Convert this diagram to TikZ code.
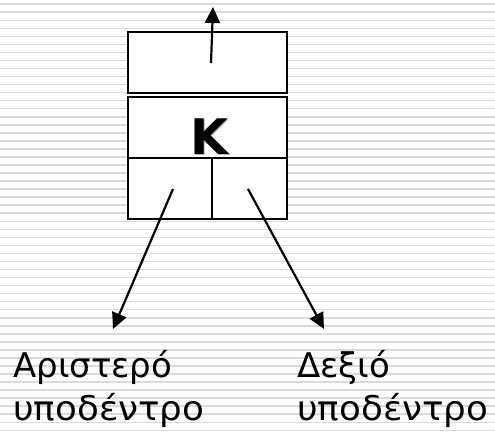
\documentclass[tikz,border=0pt]{standalone}
\usepackage{fontspec}
\setmainfont{DejaVu Sans}
\usetikzlibrary{arrows.meta,calc}
\definecolor{stripegray}{RGB}{218,218,218}
\tikzset{
  cell/.style={draw=black, fill=white, line width=2.2pt, rectangle, inner sep=0pt},
  link/.style={line width=2.2pt, -{Triangle[length=16pt,width=15pt]}},
  stripe/.style={draw=stripegray, line width=1.5pt},
  caption/.style={anchor=base west, inner sep=0pt, font=\fontsize{34}{40}\selectfont}
}
\begin{document}
\begin{tikzpicture}[x=1pt,y=-1pt]
  \useasboundingbox (0,0) rectangle (495,431);
  % ruled background
  \foreach \k in {0,...,53}
    \draw[stripe] (0,4.2+8.04*\k) -- (495,4.2+8.04*\k);

  % node record: parent pointer, key, left and right child pointers
  \node[cell, minimum width=159pt, minimum height=61pt] (parent) at (207.5,62.5) {};
  \node[cell, minimum width=159pt, minimum height=61pt] (key) at (207.5,127.5) {};
  \node[cell, minimum width=84pt, minimum height=61pt] (left) at (170,188.5) {};
  \node[cell, minimum width=75pt, minimum height=61pt] (right) at (249.5,188.5) {};

  % key letter with a soft shadow
  \node[anchor=base, inner sep=0pt, text=black!30, font=\bfseries\fontsize{49}{50}\selectfont] (kshadow) at (210.2,155.2) {Κ};
  \node[anchor=base, inner sep=0pt, font=\bfseries\fontsize{49}{50}\selectfont] (k) at (209,154) {Κ};

  % pointer ends
  \coordinate (pstart) at (211,63);
  \coordinate (pend) at (213,7);
  \coordinate (lstart) at (173,189);
  \coordinate (lend) at (113,329);
  \coordinate (rstart) at (248,189);
  \coordinate (rend) at (324,329);

  \draw[link] (pstart) -- (pend);
  \draw[link] (lstart) -- (lend);
  \draw[link] (rstart) -- (rend);

  % subtree captions
  \node[caption] (ltop) at (13,377) {Αριστερό};
  \node[caption] (lbot) at (13,420) {\scalebox{1.05}[1]{υποδέντρο}};
  \node[caption] (rtop) at (297,377) {Δεξιό};
  \node[caption] (rbot) at (297,420) {\scalebox{1.05}[1]{υποδέντρο}};
\end{tikzpicture}
\end{document}
